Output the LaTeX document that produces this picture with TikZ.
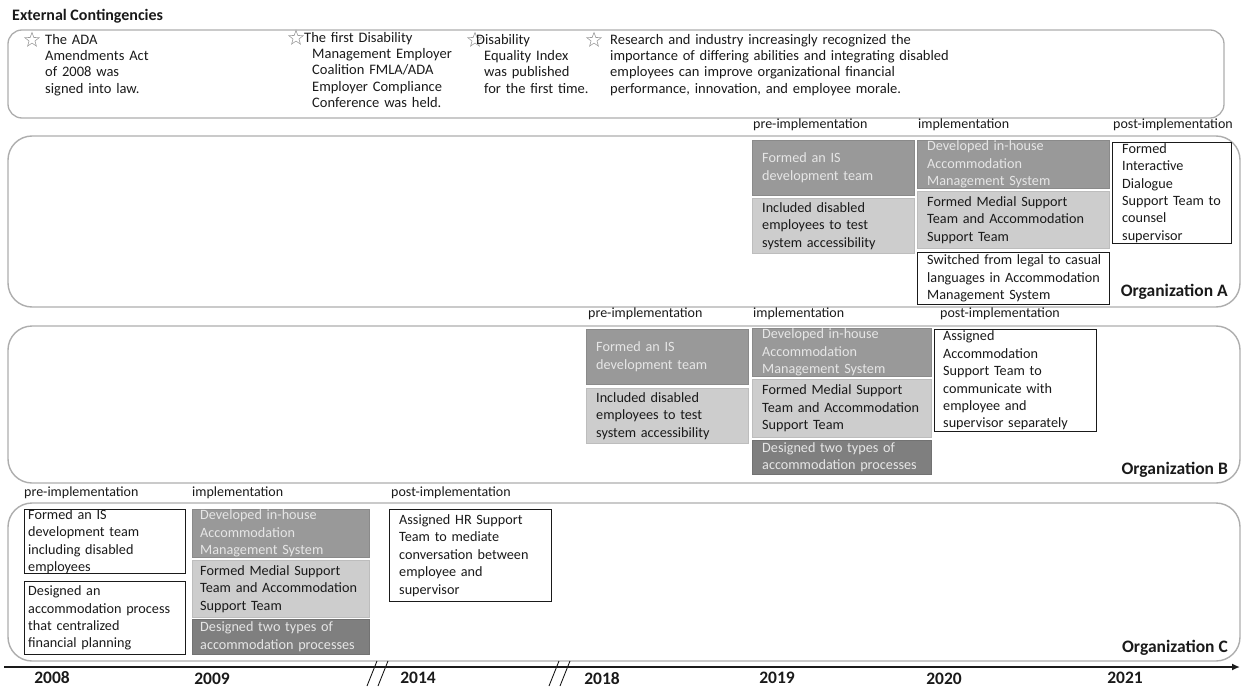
\documentclass[tikz,border=0pt]{standalone}
\usepackage{fontspec}
\setmainfont{Carlito}
\usetikzlibrary{shapes.geometric,arrows.meta}

\definecolor{bandline}{HTML}{ADADAD}
\definecolor{shadeDark}{HTML}{999999}
\definecolor{shadeDarkLine}{HTML}{8A8A8A}
\definecolor{shadeLight}{HTML}{CDCDCD}
\definecolor{shadeLightLine}{HTML}{BDBDBD}
\definecolor{shadeDeep}{HTML}{7F7F7F}
\definecolor{shadeDeepLine}{HTML}{727272}
\definecolor{paleText}{HTML}{E6E6E6}
\definecolor{inkText}{HTML}{1A1A1A}
\definecolor{starLine}{HTML}{9A9A9A}

\tikzset{
  band/.style={draw=bandline, line width=1.4pt, rounded corners=24pt},
  topband/.style={draw=bandline, line width=1.3pt, rounded corners=14pt},
  darkbox/.style={fill=shadeDark, draw=shadeDarkLine, line width=0.8pt, anchor=north west, inner sep=0pt},
  lightbox/.style={fill=shadeLight, draw=shadeLightLine, line width=0.8pt, anchor=north west, inner sep=0pt},
  deepbox/.style={fill=shadeDeep, draw=shadeDeepLine, line width=0.8pt, anchor=north west, inner sep=0pt},
  whitebox/.style={fill=white, draw=inkText, line width=1.2pt, anchor=north west, inner sep=0pt},
  boxtext/.style={anchor=west, inner sep=0pt, align=left, text width=230pt, text=inkText,
                  font=\fontsize{14.2}{17.4}\selectfont},
  paletext/.style={boxtext, text=paleText},
  phase/.style={anchor=west, inner sep=0pt, text=inkText, font=\fontsize{14}{16}\selectfont},
  note/.style={anchor=north west, inner sep=0pt, align=left, text width=400pt, text=inkText,
               font=\fontsize{14.5}{16.3}\selectfont},
  starmark/.style={star, star points=5, star point ratio=2.4, draw=starLine, line width=0.6pt,
                   minimum size=15pt, inner sep=0pt},
  orglabel/.style={anchor=east, inner sep=0pt, text=inkText, font=\bfseries\fontsize{17.5}{20}\selectfont},
  yearlabel/.style={inner sep=0pt, text=inkText, font=\bfseries\fontsize{17.5}{20}\selectfont},
  axisline/.style={draw=inkText, line width=1.8pt, -{Latex[length=8pt,width=7pt]}},
  breakmark/.style={draw=inkText, line width=0.9pt},
}

\begin{document}
\begin{tikzpicture}[x=1pt, y=-1pt]
\path[use as bounding box] (0,0) rectangle (1241,687);

% ---------- external contingencies ----------
\node[anchor=west, inner sep=0pt, text=inkText, font=\bfseries\fontsize{16}{18}\selectfont]
  (extitle) at (12,16) {External Contingencies};
\draw[topband] (8,30) rectangle (1224,118);

\node[starmark] (st1) at (32,40) {};
\node[note] (ev1) at (45,34) {The ADA\\Amendments Act\\of 2008 was\\signed into law.};
\node[starmark] (st2) at (296,38) {};
\node[note] (ev2) at (312,32) {\hspace*{-8pt}The first Disability\\Management Employer\\Coalition FMLA/ADA\\Employer Compliance\\Conference was held.};
\node[starmark] (st3) at (475,40) {};
\node[note] (ev3) at (484,34) {\hspace*{-8pt}Disability\\Equality Index\\was published\\for the first time.};
\node[starmark] (st4) at (594,40) {};
\node[note] (ev4) at (610,34) {Research and industry increasingly recognized the\\importance of differing abilities and integrating disabled\\employees can improve organizational financial\\performance, innovation, and employee morale.};

% ---------- organization A ----------
\node[phase] (aPre)  at (753,125) {pre-implementation};
\node[phase] (aImp)  at (918,125) {implementation};
\node[phase] (aPost) at (1113,125) {post-implementation};
\draw[band] (8,136) rectangle (1240,307);

\node[darkbox, minimum width=162pt, minimum height=55pt] (a1box) at (752,140) {};
\node[paletext] (a1) at ([xshift=10pt]a1box.west) {Formed an IS\\development team};
\node[lightbox, minimum width=162pt, minimum height=55pt] (a2box) at (752,198) {};
\node[boxtext] (a2) at ([xshift=10pt]a2box.west) {Included disabled\\employees to test\\system accessibility};
\node[darkbox, minimum width=192pt, minimum height=48pt] (a3box) at (917,140) {};
\node[paletext] (a3) at ([xshift=10pt]a3box.west) {Developed in-house\\Accommodation\\Management System};
\node[lightbox, minimum width=192pt, minimum height=57pt] (a4box) at (917,191) {};
\node[boxtext] (a4) at ([xshift=10pt]a4box.west) {Formed Medial Support\\Team and Accommodation\\Support Team};
\node[whitebox, minimum width=192pt, minimum height=52pt] (a5box) at (917,252) {};
\node[boxtext] (a5) at ([xshift=10pt]a5box.west) {Switched from legal to casual\\languages in Accommodation\\Management System};
\node[whitebox, minimum width=119pt, minimum height=101pt] (a6box) at (1112,142) {};
\node[boxtext] (a6) at ([xshift=10pt]a6box.west) {Formed\\Interactive\\Dialogue\\Support Team to\\counsel\\supervisor};
\node[orglabel] (orgA) at (1228,292) {Organization A};

% ---------- organization B ----------
\node[phase] (bPre)  at (588,314) {pre-implementation};
\node[phase] (bImp)  at (753,314) {implementation};
\node[phase] (bPost) at (940,314) {post-implementation};
\draw[band] (8,326) rectangle (1240,483);

\node[darkbox, minimum width=162pt, minimum height=55pt] (b1box) at (586,329) {};
\node[paletext] (b1) at ([xshift=10pt]b1box.west) {Formed an IS\\development team};
\node[lightbox, minimum width=162pt, minimum height=55pt] (b2box) at (586,388) {};
\node[boxtext] (b2) at ([xshift=10pt]b2box.west) {Included disabled\\employees to test\\system accessibility};
\node[darkbox, minimum width=179pt, minimum height=48pt] (b3box) at (752,328) {};
\node[paletext] (b3) at ([xshift=10pt]b3box.west) {Developed in-house\\Accommodation\\Management System};
\node[lightbox, minimum width=179pt, minimum height=58pt] (b4box) at (752,379) {};
\node[boxtext] (b4) at ([xshift=10pt]b4box.west) {Formed Medial Support\\Team and Accommodation\\Support Team};
\node[deepbox, minimum width=179pt, minimum height=34pt] (b5box) at (752,440) {};
\node[paletext] (b5) at ([xshift=10pt]b5box.west) {Designed two types of\\accommodation processes};
\node[whitebox, minimum width=162pt, minimum height=102pt] (b6box) at (934,329) {};
\node[boxtext] (b6) at ([xshift=9pt]b6box.west) {Assigned\\Accommodation\\Support Team to\\communicate with\\employee and\\supervisor separately};
\node[orglabel] (orgB) at (1228,470) {Organization B};

% ---------- organization C ----------
\node[phase] (cPre)  at (24,493) {pre-implementation};
\node[phase] (cImp)  at (192,493) {implementation};
\node[phase] (cPost) at (391,493) {post-implementation};
\draw[band] (8,503) rectangle (1240,661);

\node[whitebox, minimum width=161pt, minimum height=64pt] (c1box) at (24,509) {};
\node[boxtext] (c1) at ([xshift=4pt]c1box.west) {Formed an IS\\development team\\including disabled\\employees};
\node[whitebox, minimum width=161pt, minimum height=73pt] (c2box) at (24,581) {};
\node[boxtext] (c2) at ([xshift=4pt]c2box.west) {Designed an\\accommodation process\\that centralized\\financial planning};
\node[darkbox, minimum width=177pt, minimum height=48pt] (c3box) at (192,509) {};
\node[paletext] (c3) at ([xshift=8pt]c3box.west) {Developed in-house\\Accommodation\\Management System};
\node[lightbox, minimum width=177pt, minimum height=57pt] (c4box) at (192,560) {};
\node[boxtext] (c4) at ([xshift=8pt]c4box.west) {Formed Medial Support\\Team and Accommodation\\Support Team};
\node[deepbox, minimum width=177pt, minimum height=35pt] (c5box) at (192,619) {};
\node[paletext] (c5) at ([xshift=8pt]c5box.west) {Designed two types of\\accommodation processes};
\node[whitebox, minimum width=162pt, minimum height=92pt] (c6box) at (389,509) {};
\node[boxtext] (c6) at ([xshift=10pt]c6box.west) {Assigned HR Support\\Team to mediate\\conversation between\\employee and\\supervisor};
\node[orglabel] (orgC) at (1228,648) {Organization C};

% ---------- time axis ----------
\coordinate (axStart) at (4,667);
\coordinate (axEnd) at (1240,667);
\draw[axisline] (axStart) -- (axEnd);

\draw[breakmark] (367,686) -- (377,661);
\draw[breakmark] (378,686) -- (388,661);
\draw[breakmark] (549,686) -- (559,661);
\draw[breakmark] (560,686) -- (570,661);

\node[yearlabel] (y2008) at (52,678) {2008};
\node[yearlabel] (y2009) at (212,678.5) {2009};
\node[yearlabel] (y2014) at (418,678) {2014};
\node[yearlabel] (y2018) at (602,678.5) {2018};
\node[yearlabel] (y2019) at (777,678) {2019};
\node[yearlabel] (y2020) at (944,678.5) {2020};
\node[yearlabel] (y2021) at (1125,678) {2021};
\end{tikzpicture}
\end{document}
